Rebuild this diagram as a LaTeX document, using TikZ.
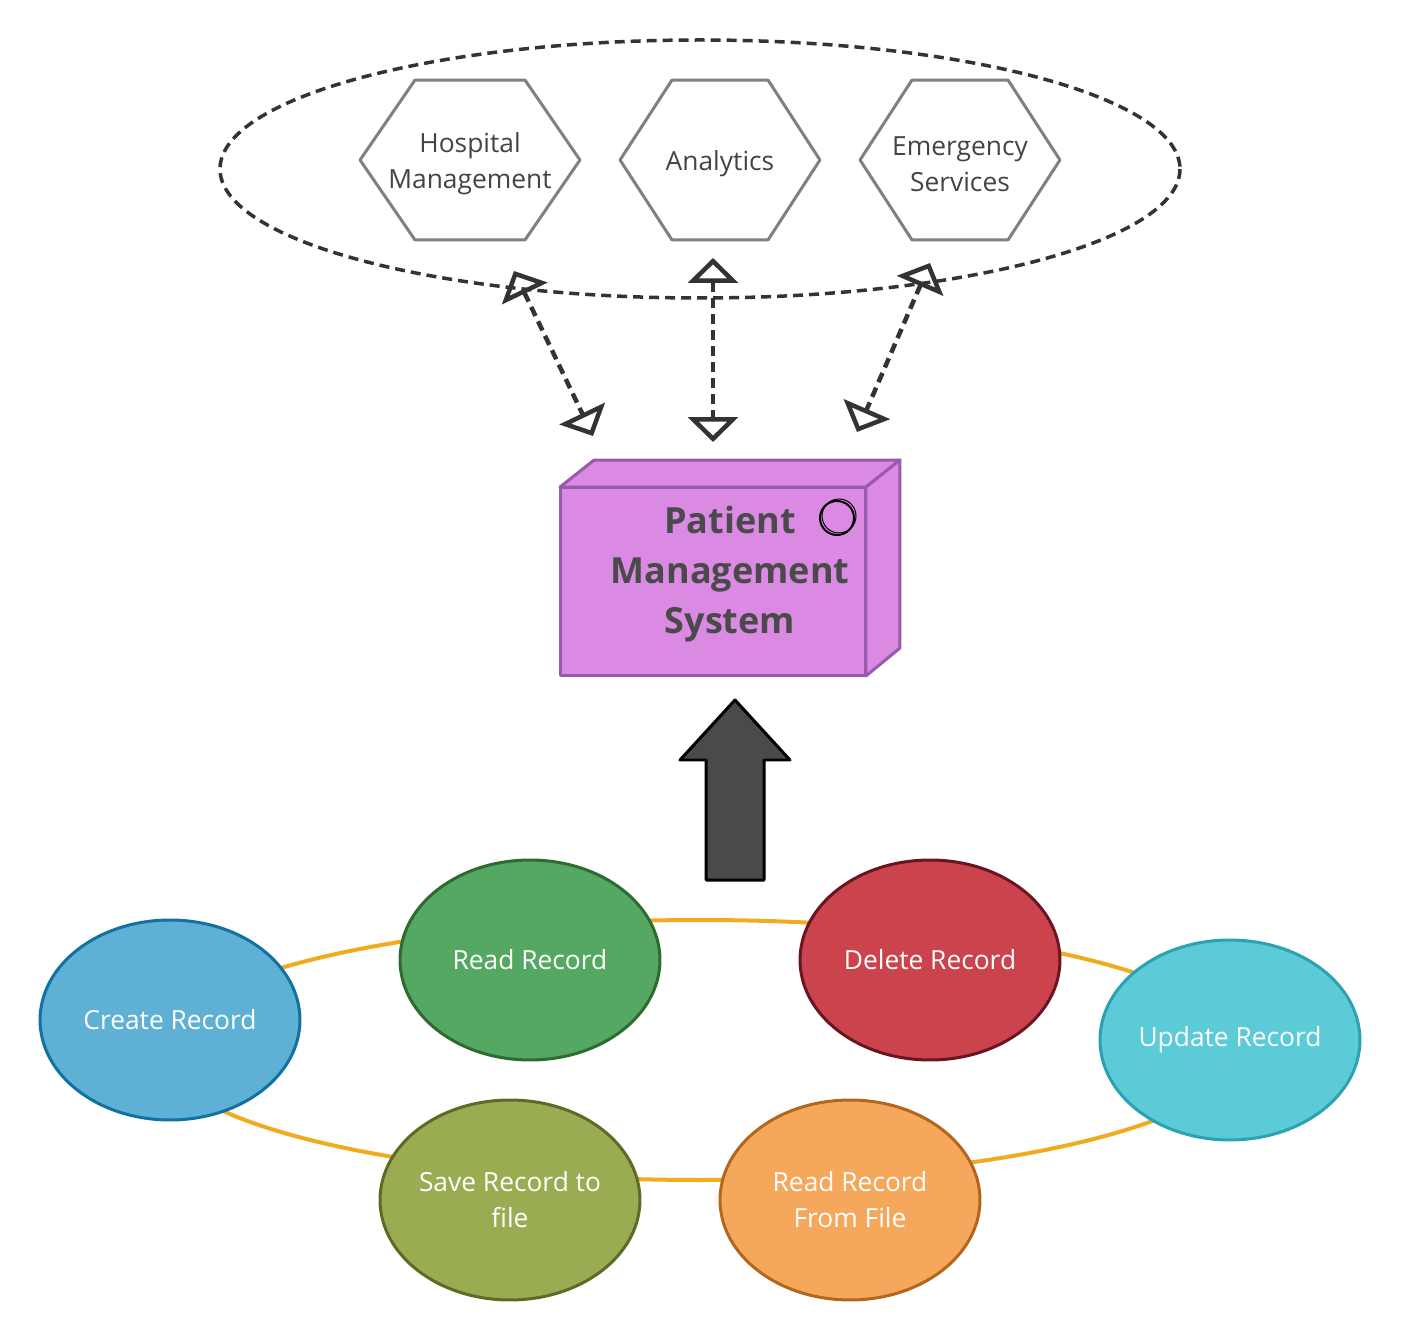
\documentclass[tikz,border=0pt]{standalone}
\usepackage{fontspec}
\setmainfont{Open Sans}
\usetikzlibrary{arrows.meta, shapes.geometric, calc}

\definecolor{hexgray}{HTML}{808080}
\definecolor{txtgray}{HTML}{444444}
\definecolor{dashgray}{HTML}{333333}
\definecolor{pmsfill}{HTML}{DA8AE3}
\definecolor{pmsdraw}{HTML}{9A5AAA}
\definecolor{ringorange}{HTML}{F0AC1E}
\definecolor{arrowfill}{HTML}{4A4A4A}
\definecolor{createfill}{HTML}{5EB0D5}
\definecolor{createdraw}{HTML}{1271A1}
\definecolor{readfill}{HTML}{54A862}
\definecolor{readdraw}{HTML}{2E6B30}
\definecolor{deletefill}{HTML}{CB444D}
\definecolor{deletedraw}{HTML}{6A1520}
\definecolor{updatefill}{HTML}{5BCBD8}
\definecolor{updatedraw}{HTML}{2AA2AF}
\definecolor{savefill}{HTML}{9AAC52}
\definecolor{savedraw}{HTML}{5E6B27}
\definecolor{rffill}{HTML}{F5A75C}
\definecolor{rfdraw}{HTML}{B5661E}

\begin{document}
\begin{tikzpicture}[x=0.02cm,y=-0.02cm,
  hexbox/.style={minimum height=3.2cm, outer sep=0pt, inner sep=0pt},
  hextext/.style={align=center, text=txtgray, yshift=-0.08cm, font=\fontsize{15}{20.5}\selectfont},
  hexline/.style={draw=hexgray, line width=0.06cm, line join=round},
  dasharrow/.style={draw=dashgray, line width=0.09cm, dash pattern=on 0.2cm off 0.12cm,
    {Triangle[open, length=0.5cm, width=1cm]}-{Triangle[open, length=0.5cm, width=1cm]}},
  recnode/.style 2 args={ellipse, minimum width=5.2cm, minimum height=4cm, inner xsep=-0.6cm,
    fill=#1, draw=#2, line width=0.06cm, text=white, align=center,
    font=\fontsize{15}{20.5}\selectfont},
  pmsline/.style={draw=pmsdraw, fill=pmsfill, line width=0.06cm, line join=round}]

\useasboundingbox (0,0) rectangle (1401,1341);

% systems around the patient management system
\draw[dashgray, line width=0.07cm, dash pattern=on 0.2cm off 0.12cm] (700,169) ellipse [x radius=480, y radius=129];

\node[hexbox, minimum width=4.4cm, label={[hextext]center:{Hospital\\Management}}] (hosp) at (470,160) {};
\node[hexbox, minimum width=4cm, label={[hextext]center:Analytics}] (ana) at (720,160) {};
\node[hexbox, minimum width=4cm, label={[hextext]center:{Emergency\\Services}}] (emer) at (960,160) {};

\foreach \n/\i in {hosp/55, ana/52, emer/52} {
    \draw[hexline] (\n.west) -- ($(\n.north west)+(\i,0)$) -- ($(\n.north east)+(-\i,0)$)
        -- (\n.east) -- ($(\n.south east)+(-\i,0)$) -- ($(\n.south west)+(\i,0)$) -- cycle;
}

% the node
\node[pmsline, minimum width=6.12cm, minimum height=3.78cm, outer sep=0pt] (pms) at (713,581.5) {};
\draw[pmsline] (pms.north west) -- ++(34,-27) -- ++(306,0) -- (pms.north east) -- cycle;
\draw[pmsline] (pms.north east) -- ++(34,-27) -- ++(0,188) -- (pms.south east) -- cycle;
\node[align=center, text=arrowfill, font=\fontsize{20.5}{28.5}\selectfont\bfseries] (pmslabel) at (730,574)
    {Patient\\Management\\System};
\draw[black, line width=0.04cm] (837,518) circle [radius=17];
\draw[black, line width=0.02cm] (839,516) circle [radius=17];

% dashed links
\coordinate (t1) at (514,271);
\coordinate (b1) at (593,436);
\coordinate (t2) at (713,258);
\coordinate (b2) at (713,442);
\coordinate (t3) at (930,263);
\coordinate (b3) at (857,432);
\foreach \k in {1,2,3} {
    \draw[dasharrow] (t\k) -- (b\k);
}

% block arrow
\draw[fill=arrowfill, draw=black, line width=0.06cm, line join=round]
    (706,880) -- (706,760) -- (680,760) -- (735,700) -- (790,760) -- (764,760) -- (764,880) -- cycle;

% record operations
\draw[ringorange, line width=0.08cm] (700,1050) ellipse [x radius=540, y radius=130];

\node[recnode={createfill}{createdraw}] (create) at (170,1020) {Create Record};
\node[recnode={readfill}{readdraw}] (read) at (530,960) {Read Record};
\node[recnode={deletefill}{deletedraw}] (delete) at (930,960) {Delete Record};
\node[recnode={updatefill}{updatedraw}] (update) at (1230,1040) {Update Record};
\node[recnode={savefill}{savedraw}] (save) at (510,1200) {Save Record to\\file};
\node[recnode={rffill}{rfdraw}] (readfile) at (850,1200) {Read Record\\From File};

\end{tikzpicture}
\end{document}
